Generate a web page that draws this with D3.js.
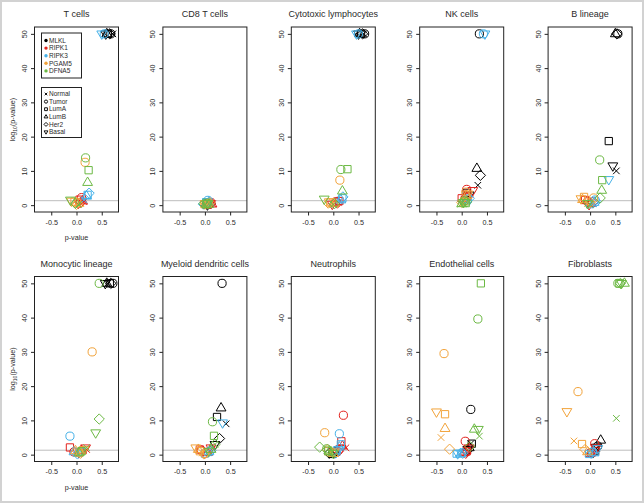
<!DOCTYPE html>
<html><head><meta charset="utf-8">
<script src="https://cdn.jsdelivr.net/npm/d3@7"></script>
<style>body{margin:0;background:#fff} svg{display:block} text{font-family:"Liberation Sans",Arial,Helvetica,sans-serif;font-weight:400}</style>
</head><body><svg id="c" width="644" height="503"></svg>
<script>
const panels = ["T cells","CD8 T cells","Cytotoxic lymphocytes","NK cells","B lineage",
  "Monocytic lineage","Myeloid dendritic cells","Neutrophils","Endothelial cells","Fibroblasts"];
const genes = ["MLKL","RIPK1","RIPK3","PGAM5","DFNA5"];
const geneColors = ["#000000","#E3211C","#45B1E8","#F2A33A","#6CB944"];
const groups = ["Normal","Tumor","LumA","LumB","Her2","Basal"];
const xTicks = [-0.5, 0, 0.5];
const yTicks = [0, 10, 20, 30, 40, 50];
const sigLine = 1.3;

// x: correlation, y: -log10(p) capped at 50; per panel, groups in order Normal,Tumor,LumA,LumB,Her2,Basal
const mlklX = [[0.72,0.68,0.62,0.6,0.66,0.58],[0.08,0.04,0.06,0.02,0.1,0.05],[0.6,0.62,0.55,0.52,0.58,0.5],[0.32,0.35,0.1,0.3,0.37,0.15],[0.52,0.55,0.37,0.5,0.53,0.45],
  [0.62,0.72,0.66,0.6,0.68,0.57],[0.42,0.34,0.24,0.32,0.29,0.2],[-0.05,0.0,-0.02,0.03,-0.08,0.02],[0.18,0.18,0.2,0.15,0.1,0.12],[0.13,0.15,0.1,0.21,0.05,0.12]];
const mlklY = [[50,50,50,50,50,50],[0.3,0.6,0.2,0.4,0.5,0.1],[50,50,50,50,50,50],[5.8,50,3.6,10.7,8.7,3.0],[10,50,18.7,50,50,11.5],
  [50,50,50,50,50,50],[9.0,50,11,13.6,4.7,3.0],[0.3,0.5,0.2,0.8,0.4,0.6],[3.2,13.2,3.2,2.0,1.0,1.5],[1.8,2.5,1.0,4.2,0.5,2.2]];
const ripk1X = [[0.15,0.1,0.06,0.12,0.08,0.04],[0.15,0.12,0.06,0.14,0.09,0.1],[0.1,0.05,0.12,0.02,0.08,-0.02],[0.05,0.1,0.0,0.08,0.12,0.22],[0.0,-0.05,-0.1,0.02,0.05,-0.02],
  [0.2,-0.05,-0.13,0.1,0.05,0.18],[0.15,-0.07,-0.1,0.05,0.0,0.12],[0.25,0.2,0.16,0.18,0.1,0.15],[0.12,0.07,0.1,0.05,0.08,0.15],[0.05,0.09,0.02,0.0,0.1,0.12]];
const ripk1Y = [[1.0,2.2,1.6,1.2,0.8,0.6],[0.4,0.8,0.2,0.3,0.6,0.5],[0.8,1.0,1.2,0.5,0.6,0.3],[1.5,4.6,2.0,3.0,2.5,4.3],[0.3,1.0,1.5,0.5,0.8,0.2],
  [1.5,0.8,2.1,1.2,0.5,2.0],[1.8,1.3,1.5,0.6,0.4,2.0],[2.0,11.5,3.9,2.5,1.0,1.8],[1.5,3.9,1.0,0.6,0.4,2.0],[0.8,3.2,0.5,0.3,1.5,2.0]];
const ripk3X = [[0.15,0.55,0.22,0.2,0.25,0.5],[-0.02,0.06,0.03,0.08,-0.03,0.05],[0.12,0.5,0.18,0.15,0.19,0.46],[0.1,0.43,0.12,0.08,0.15,0.46],[0.05,0.1,0.0,0.08,0.12,0.37],
  [0.0,-0.13,0.05,-0.05,0.02,0.08],[0.05,0.1,0.0,0.08,0.12,0.35],[0.08,0.12,0.15,0.12,0.05,0.1],[-0.05,0.0,-0.1,-0.02,0.02,-0.08],[0.0,0.05,-0.02,0.08,0.02,0.15]];
const ripk3Y = [[1.5,50,3.0,2.6,3.5,50],[0.5,1.4,0.7,0.9,0.3,1.1],[1.2,50,2.0,1.5,2.4,50],[1.0,50,1.8,1.2,2.0,50],[0.5,1.5,0.3,0.8,1.0,7.5],
  [0.3,5.4,0.5,0.8,0.2,1.0],[0.5,1.0,0.3,0.8,1.2,9.3],[0.8,6.1,3.0,2.2,0.5,1.5],[0.3,0.5,0.3,0.2,0.4,0.3],[0.3,0.8,0.2,0.5,0.4,1.8]];
const pgam5X = [[0.02,0.17,-0.04,0.05,0.0,-0.1],[0.02,0.07,-0.01,0.04,0.1,0.0],[0.0,0.13,-0.06,0.02,-0.1,-0.08],[0.02,0.08,0.05,0.1,0.0,0.12],[-0.05,0.07,-0.12,-0.15,0.0,-0.18],
  [0.12,0.31,0.05,-0.02,0.08,0.15],[-0.05,0.0,-0.1,-0.13,-0.02,-0.18],[-0.05,-0.17,-0.1,0.0,-0.12,0.02],[-0.41,-0.35,-0.33,-0.33,-0.24,-0.5],[-0.32,-0.24,-0.16,-0.05,-0.1,-0.46]];
const pgam5Y = [[0.3,12.5,1.0,0.5,0.2,1.2],[0.2,0.5,0.3,0.1,0.7,0.4],[0.3,7.3,0.8,0.5,0.6,1.0],[0.5,3.8,1.2,2.8,0.8,3.3],[0.5,2.1,2.4,1.6,0.8,1.9],
  [1.0,30,0.6,1.1,0.4,1.5],[0.5,0.3,1.0,1.5,0.2,2.0],[0.5,6.4,1.0,0.3,1.5,0.8],[5.0,29.5,11.8,7.6,1.6,12.5],[4.0,18.4,3.1,0.8,1.5,12.6]];
const dfna5X = [[0.04,0.18,0.24,0.22,-0.02,-0.12],[0.0,0.05,0.03,0.08,-0.02,0.06],[0.0,0.15,0.28,0.18,0.02,-0.18],[-0.02,0.05,0.08,0.0,0.1,0.03],[0.0,0.19,0.24,0.23,0.2,-0.05],
  [0.2,0.45,0.1,0.05,0.45,0.38],[0.2,0.15,0.18,0.12,0.2,0.08],[-0.05,-0.13,-0.1,-0.08,-0.27,0.0],[0.35,0.32,0.38,0.25,0.16,0.33],[0.52,0.55,0.58,0.68,0.6,0.62]];
const dfna5Y = [[0.2,13.8,10.2,6.6,0.5,1.5],[0.1,0.6,0.3,0.2,0.4,0.5],[0.2,10.4,10.5,4.1,0.4,1.8],[0.3,1.2,0.6,0.4,1.0,0.8],[0.2,13.2,7.3,4.3,2.1,0.5],
  [2.0,50,1.0,0.5,10.4,6.4],[3.0,9.6,5.5,1.5,3.0,1.0],[0.3,1.7,1.2,0.8,2.2,0.4],[5.4,39.6,50,7.4,2.4,7.4],[10.6,50,50,50,50,50]];

const geneX = [mlklX, ripk1X, ripk3X, pgam5X, dfna5X];
const geneY = [mlklY, ripk1Y, ripk3Y, pgam5Y, dfna5Y];

function symbolPath(shape, R) {
  const f = v => v.toFixed(2);
  switch (shape) {
    case 0: { const a = 0.8 * R; return `M${f(-a)},${f(-a)}L${f(a)},${f(a)}M${f(-a)},${f(a)}L${f(a)},${f(-a)}`; }
    case 1: return `M${f(R)},0A${f(R)},${f(R)} 0 1,1 ${f(-R)},0A${f(R)},${f(R)} 0 1,1 ${f(R)},0Z`;
    case 2: { const s = 0.886 * R; return `M${f(-s)},${f(-s)}H${f(s)}V${f(s)}H${f(-s)}Z`; }
    case 3: { const r = 1.35 * R, h = 1.2 * R, b = 0.7 * R; return `M0,${f(-r)}L${f(h)},${f(b)}L${f(-h)},${f(b)}Z`; }
    case 4: { const d = 1.25 * R; return `M0,${f(-d)}L${f(d)},0L0,${f(d)}L${f(-d)},0Z`; }
    case 5: { const r = 1.35 * R, h = 1.2 * R, b = 0.7 * R; return `M0,${f(r)}L${f(h)},${f(-b)}L${f(-h)},${f(-b)}Z`; }
  }
}

const svg = d3.select("#c");
svg.append("rect").attr("x", 1).attr("y", 1).attr("width", 642).attr("height", 501)
  .attr("fill", "#fff").attr("stroke", "#d2d2d2").attr("stroke-width", 2);

const colW = 128.4, boxW = 84, boxH = 185;
const boxLeft0 = 34.5, boxTops = [27, 276.5];
const R = 4.1;
const txt = "#2a2a2a";

panels.forEach((name, p) => {
  const row = Math.floor(p / 5), col = p % 5;
  const bx = boxLeft0 + col * colW, by = boxTops[row];
  const x = d3.scaleLinear().domain([-0.832, 0.832]).range([bx, bx + boxW]);
  const y = d3.scaleLinear().domain([-2, 52]).range([by + boxH, by]);
  const g = svg.append("g");

  g.append("line").attr("x1", bx).attr("x2", bx + boxW).attr("y1", y(sigLine)).attr("y2", y(sigLine))
    .attr("stroke", "#bdbdbd").attr("stroke-width", 1);

  const clipId = "clip" + p;
  g.append("clipPath").attr("id", clipId).append("rect").attr("x", bx).attr("y", by).attr("width", boxW).attr("height", boxH);
  const pg = g.append("g").attr("clip-path", `url(#${clipId})`);
  genes.forEach((gene, gi) => {
    groups.forEach((grp, k) => {
      pg.append("path")
        .attr("d", symbolPath(k, R))
        .attr("transform", `translate(${x(geneX[gi][p][k])},${y(geneY[gi][p][k])})`)
        .attr("fill", "none").attr("stroke", geneColors[gi]).attr("stroke-width", 1);
    });
  });

  g.append("rect").attr("x", bx).attr("y", by).attr("width", boxW).attr("height", boxH)
    .attr("fill", "none").attr("stroke", "#222").attr("stroke-width", 1);

  const ax = g.append("g").attr("transform", `translate(0,${by + boxH})`)
    .call(d3.axisBottom(x).tickValues(xTicks).tickSize(3.5).tickPadding(4).tickFormat(d => d.toFixed(1)));
  const ay = g.append("g").attr("transform", `translate(${bx},0)`)
    .call(d3.axisLeft(y).tickValues(yTicks).tickSize(3.5).tickPadding(3).tickFormat(d => String(d)));
  [ax, ay].forEach(a => {
    a.select(".domain").remove();
    a.selectAll(".tick line").attr("stroke", "#222");
    a.selectAll(".tick text").attr("font-size", 7.2).attr("fill", txt)
      .attr("font-family", "'Liberation Sans',Arial,sans-serif");
  });
  ay.selectAll(".tick text")
    .attr("text-anchor", "middle").attr("x", null).attr("dy", null)
    .attr("transform", "translate(-10,0) rotate(-90)").attr("dy", "0.35em");

  g.append("text").attr("x", bx + boxW / 2).attr("y", by - 10).attr("text-anchor", "middle")
    .attr("font-size", 9).attr("fill", txt).text(name);

  if (col === 0) {
    g.append("text").attr("x", bx + boxW / 2).attr("y", by + boxH + 28).attr("text-anchor", "middle")
      .attr("font-size", 7.2).attr("fill", txt).text("p-value");
    const yl = g.append("text").attr("transform", `translate(${bx - 19.5},${by + boxH / 2}) rotate(-90)`)
      .attr("text-anchor", "middle").attr("font-size", 7.2).attr("fill", txt);
    yl.append("tspan").text("log");
    yl.append("tspan").attr("font-size", 5).attr("dy", 2).text("10");
    yl.append("tspan").attr("dy", -2).text("(p-value)");
  }

  if (p === 0) {
    const lx = bx + 7, lw = 40;
    const l1 = g.append("g");
    l1.append("rect").attr("x", lx).attr("y", 33).attr("width", lw).attr("height", 45)
      .attr("fill", "#fff").attr("stroke", "#222").attr("stroke-width", 1);
    genes.forEach((gene, i) => {
      const yy = 40.5 + i * 7.6;
      l1.append("circle").attr("cx", lx + 4.5).attr("cy", yy).attr("r", 1.7).attr("fill", geneColors[i]);
      l1.append("text").attr("x", lx + 7.5).attr("y", yy).attr("dy", "0.35em").attr("font-size", 6.5)
        .attr("fill", txt).text(gene);
    });
    const l2 = g.append("g");
    l2.append("rect").attr("x", lx).attr("y", 87.5).attr("width", lw).attr("height", 50)
      .attr("fill", "#fff").attr("stroke", "#222").attr("stroke-width", 1);
    groups.forEach((grp, k) => {
      const yy = 94 + k * 7.6;
      l2.append("path").attr("d", symbolPath(k, 1.6)).attr("transform", `translate(${lx + 4.5},${yy})`)
        .attr("fill", "none").attr("stroke", "#111").attr("stroke-width", 1);
      l2.append("text").attr("x", lx + 7.5).attr("y", yy).attr("dy", "0.35em").attr("font-size", 6.5)
        .attr("fill", txt).text(grp);
    });
  }
});
</script>
</body></html>
